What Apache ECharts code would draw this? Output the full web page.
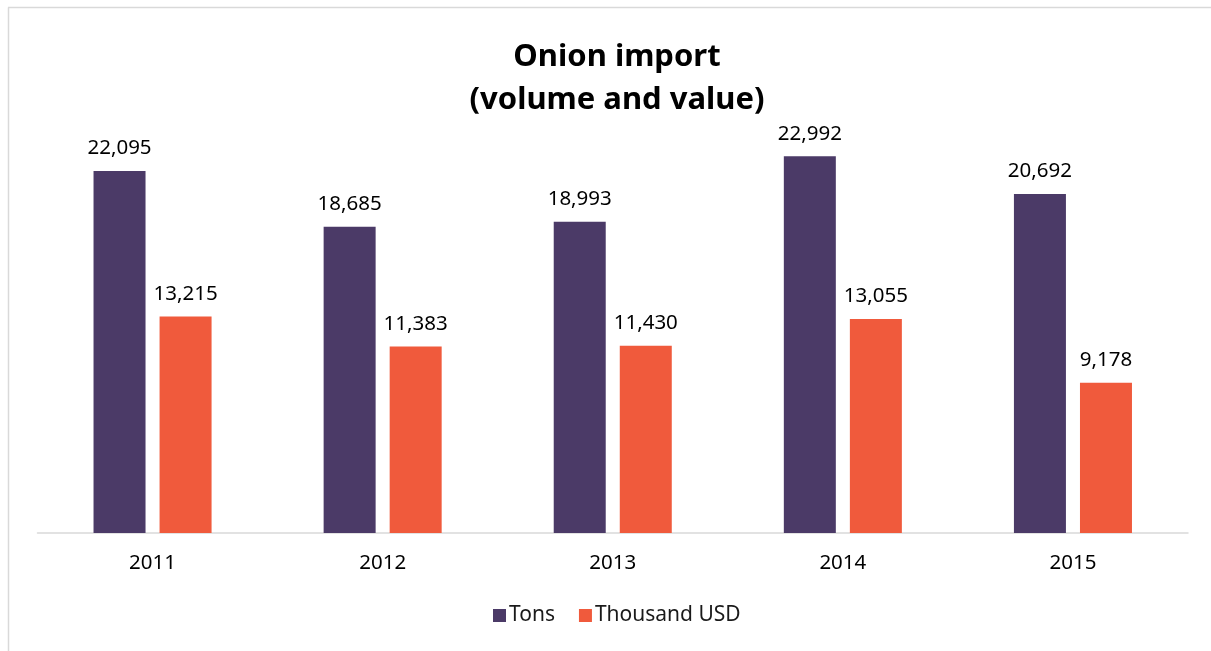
<!DOCTYPE html>
<html>
<head>
<meta charset="utf-8">
<script src="https://cdn.jsdelivr.net/npm/echarts@6/dist/echarts.min.js"></script>
<style>
html,body{margin:0;padding:0;background:#fff;}
#chart{width:1211px;height:651px;}
</style>
</head>
<body>
<div id="chart"></div>
<script>
const categories = ['2011', '2012', '2013', '2014', '2015'];
const tons = [22095, 18685, 18993, 22992, 20692];
const thousandUSD = [13215, 11383, 11430, 13055, 9178];
const seriesNames = ['Tons', 'Thousand USD'];
const colors = ['#4b3a67', '#f05a3c'];

const FONT = '"Noto Sans", "Open Sans", sans-serif';
const chart = echarts.init(document.getElementById('chart'), null, {renderer: 'canvas'});
const fmt = p => Number(p.value).toLocaleString('en-US');

chart.setOption({
  backgroundColor: '#ffffff',
  animation: false,
  title: {
    text: 'Onion import\n(volume and value)',
    left: 612,
    textAlign: 'center',
    top: 31,
    textStyle: {
      fontFamily: FONT,
      fontWeight: 'bold',
      fontSize: 31,
      lineHeight: 43,
      color: '#000'
    }
  },
  legend: {
    data: seriesNames,
    bottom: 20,
    left: 488,
    itemWidth: 13,
    itemHeight: 13,
    itemGap: 24,
    icon: 'rect',
    textStyle: {fontFamily: FONT, fontSize: 21, color: '#1a1a1a', padding: [0, 0, 0, -2]}
  },
  grid: {left: 37.5, right: 23, top: 123.4, bottom: 118, containLabel: false},
  xAxis: {
    type: 'category',
    data: categories,
    axisLine: {lineStyle: {color: '#d9d9d9', width: 1.5}},
    axisTick: {show: false},
    axisLabel: {fontFamily: FONT, fontSize: 20.5, color: '#000', margin: 20}
  },
  yAxis: {
    type: 'value',
    min: 0,
    max: 25000,
    show: false,
    splitLine: {show: false}
  },
  series: [
    {
      name: seriesNames[0],
      type: 'bar',
      data: tons,
      barWidth: 52,
      barGap: '27%',
      itemStyle: {color: colors[0]},
      label: {show: true, position: 'top', distance: 12, formatter: fmt,
        fontFamily: FONT, fontSize: 20.5, color: '#000'}
    },
    {
      name: seriesNames[1],
      type: 'bar',
      data: thousandUSD,
      barWidth: 52,
      barGap: '27%',
      itemStyle: {color: colors[1]},
      label: {show: true, position: 'top', distance: 12, formatter: fmt,
        fontFamily: FONT, fontSize: 20.5, color: '#000'}
    }
  ],
  graphic: [
    {type: 'line', shape: {x1: 8, y1: 7.5, x2: 1211, y2: 7.5}, style: {stroke: '#d9d9d9', lineWidth: 1.5}, silent: true},
    {type: 'line', shape: {x1: 8.5, y1: 7.5, x2: 8.5, y2: 651}, style: {stroke: '#d9d9d9', lineWidth: 1.5}, silent: true}
  ]
});
</script>
</body>
</html>
